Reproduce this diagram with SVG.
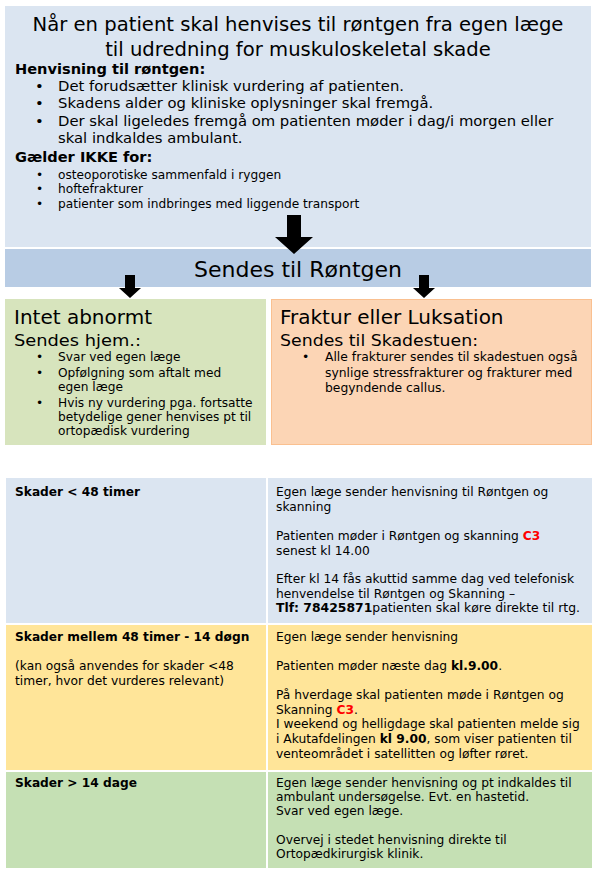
<svg xmlns="http://www.w3.org/2000/svg" width="596" height="874" viewBox="0 0 596 874">
<style>
text{font-family:"DejaVu Sans",Verdana,sans-serif;fill:#000}
.t20{font-size:19.6px}
.t22{font-size:22px}
.h20{font-size:20px}
.t17{font-size:16.5px}
.b14{font-size:14.6px;font-weight:bold}
.t14{font-size:14.8px}
.t11{font-size:12.2px}
.t12{font-size:12.2px}
.f12{font-size:12.35px}
.c11{font-size:12.25px}
.cb{font-size:12.2px;font-weight:bold}
.red{fill:#ff0000;font-weight:bold}
.bold{font-weight:bold}
</style>
<rect width="596" height="874" fill="#ffffff"/>
<g id="top">
<rect x="5" y="6" width="586" height="241" fill="#dbe5f1"/>
<text class="t20" x="298" y="31" text-anchor="middle">Når en patient skal henvises til røntgen fra egen læge</text>
<text class="t20" x="298" y="56" text-anchor="middle">til udredning for muskuloskeletal skade</text>
<text class="b14" x="15" y="74">Henvisning til røntgen:</text>
<text class="t14" x="35" y="91">•</text><text class="t14" x="58" y="91">Det forudsætter klinisk vurdering af patienten.</text>
<text class="t14" x="35" y="108">•</text><text class="t14" x="58" y="108">Skadens alder og kliniske oplysninger skal fremgå.</text>
<text class="t14" x="35" y="126">•</text><text class="t14" x="58" y="126">Der skal ligeledes fremgå om patienten møder i dag/i morgen eller</text>
<text class="t14" x="58" y="143">skal indkaldes ambulant.</text>
<text class="b14" x="15" y="162">Gælder IKKE for:</text>
<text class="t11" x="36" y="179">•</text><text class="t11" x="58" y="179">osteoporotiske sammenfald i ryggen</text>
<text class="t11" x="36" y="193">•</text><text class="t11" x="58" y="193">hoftefrakturer</text>
<text class="t11" x="36" y="208">•</text><text class="t11" x="58" y="208">patienter som indbringes med liggende transport</text>
</g>
<g id="bar">
<rect x="5" y="249" width="586" height="38" fill="#b8cce4"/>
<text class="t22" x="298" y="277" text-anchor="middle">Sendes til Røntgen</text>
</g>
<g id="normal">
<rect x="5" y="299" width="261" height="146" fill="#d7e4bd"/>
<text class="h20" x="14" y="324">Intet abnormt</text>
<text class="t17" x="14" y="346" textLength="127" lengthAdjust="spacingAndGlyphs">Sendes hjem.:</text>
<text class="t12" x="36" y="361">•</text><text class="t12" x="58" y="361">Svar ved egen læge</text>
<text class="t12" x="36" y="377">•</text><text class="t12" x="58" y="377">Opfølgning som aftalt med</text>
<text class="t12" x="58" y="391">egen læge</text>
<text class="t12" x="36" y="407">•</text><text class="t12" x="58" y="407">Hvis ny vurdering pga. fortsatte</text>
<text class="t12" x="58" y="421">betydelige gener henvises pt til</text>
<text class="t12" x="58" y="435">ortopædisk vurdering</text>
</g>
<g id="fraktur">
<rect x="271.5" y="299.5" width="320" height="145" fill="#fcd5b5" stroke="#fac090" stroke-width="1"/>
<text class="h20" x="280" y="324">Fraktur eller Luksation</text>
<text class="t17" x="280" y="346" textLength="198" lengthAdjust="spacingAndGlyphs">Sendes til Skadestuen:</text>
<text class="f12" x="302" y="361">•</text><text class="f12" x="325" y="361">Alle frakturer sendes til skadestuen også</text>
<text class="f12" x="325" y="377">synlige stressfrakturer og frakturer med</text>
<text class="f12" x="325" y="392">begyndende callus.</text>
</g>
<g id="connectors">
<polygon points="287,215 301,215 301,237 313,237 294,254 275,237 287,237" fill="#000"/>
<polygon points="125,275 135,275 135,288 141,288 130,298 119,288 125,288" fill="#000"/>
<polygon points="419,275 429,275 429,288 435,288 424,298 413,288 419,288" fill="#000"/>
</g>
<g id="row1">
<rect x="6" y="478" width="260" height="145" fill="#dbe5f1"/>
<rect x="268" y="478" width="324" height="145" fill="#dbe5f1"/>
<text class="cb" x="15" y="496">Skader &lt; 48 timer</text>
<text class="c11" x="276" y="496">Egen læge sender henvisning til Røntgen og</text>
<text class="c11" x="276" y="511">skanning</text>
<text class="c11" x="276" y="540">Patienten møder i Røntgen og skanning <tspan class="red">C3</tspan></text>
<text class="c11" x="276" y="555">senest kl 14.00</text>
<text class="c11" x="276" y="583">Efter kl 14 fås akuttid samme dag ved telefonisk</text>
<text class="c11" x="276" y="598">henvendelse til Røntgen og Skanning –</text>
<text class="c11" x="276" y="612" textLength="304" lengthAdjust="spacingAndGlyphs"><tspan class="bold">Tlf: 78425871</tspan>patienten skal køre direkte til rtg.</text>
</g>
<g id="row2">
<rect x="6" y="625" width="260" height="145" fill="#ffe599"/>
<rect x="268" y="625" width="324" height="145" fill="#ffe599"/>
<text class="cb" x="15" y="641">Skader mellem 48 timer - 14 døgn</text>
<text class="c11" x="15" y="670">(kan også anvendes for skader &lt;48</text>
<text class="c11" x="15" y="685">timer, hvor det vurderes relevant)</text>
<text class="c11" x="276" y="641">Egen læge sender henvisning</text>
<text class="c11" x="276" y="670">Patienten møder næste dag <tspan class="bold">kl.9.00</tspan>.</text>
<text class="c11" x="276" y="699">På hverdage skal patienten møde i Røntgen og</text>
<text class="c11" x="276" y="714">Skanning <tspan class="red">C3</tspan>.</text>
<text class="c11" x="276" y="728">I weekend og helligdage skal patienten melde sig</text>
<text class="c11" x="276" y="743">i Akutafdelingen <tspan class="bold">kl 9.00</tspan>, som viser patienten til</text>
<text class="c11" x="276" y="758">venteområdet i satellitten og løfter røret.</text>
</g>
<g id="row3">
<rect x="6" y="772" width="260" height="96" fill="#c5e0b4"/>
<rect x="268" y="772" width="324" height="96" fill="#c5e0b4"/>
<text class="cb" x="15" y="787">Skader &gt; 14 dage</text>
<text class="c11" x="276" y="787">Egen læge sender henvisning og pt indkaldes til</text>
<text class="c11" x="276" y="801">ambulant undersøgelse. Evt. en hastetid.</text>
<text class="c11" x="276" y="815">Svar ved egen læge.</text>
<text class="c11" x="276" y="844">Overvej i stedet henvisning direkte til</text>
<text class="c11" x="276" y="858">Ortopædkirurgisk klinik.</text>
</g>
</svg>
